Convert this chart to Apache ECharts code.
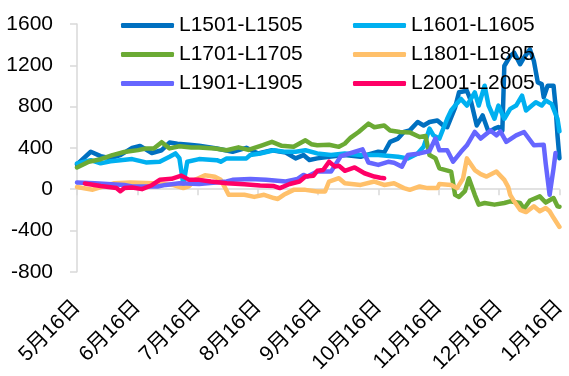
<!DOCTYPE html>
<html><head><meta charset="utf-8">
<script src="https://cdn.jsdelivr.net/npm/echarts@6/dist/echarts.min.js"></script>
<style>html,body{margin:0;padding:0;background:#fff}#c{width:569px;height:376px}</style>
</head><body><div id="c"></div>
<script>
// x values are days since 5月16日
const tickLabels = ['5月16日','6月16日','7月16日','8月16日','9月16日','10月16日','11月16日','12月16日','1月16日'];
const seriesNames = ['L1501-L1505','L1601-L1605','L1701-L1705','L1801-L1805','L1901-L1905','L2001-L2005'];
const seriesColors = ['#0070C0','#00B0F0','#6BAA34','#FFC06A','#6666FF','#FF0066'];

const l1501Days = [0,7,12,17,22,28,32,38,43,47,51,57,62,71,79,86,92,99,106,111,115,118,122,128,136,144,153,156,159,163,166,169,173,176,179,183,186,188,192,194,198,200,203,206,209,212,214,216,217,220,222,225,227,230,232,234,236,237,239,242,243,244,245];
const l1501Vals = [240,362,320,300,330,400,419,350,377,451,441,430,420,394,362,400,346,377,355,298,330,282,298,314,330,314,362,355,458,490,554,569,650,617,650,665,617,600,790,938,953,857,617,714,554,586,602,569,1193,1290,1322,1210,1274,1354,1242,1034,1018,890,1002,1002,809,521,300];

const l1601Days = [0,7,12,17,22,28,35,42,47,50,52,54,56,62,71,73,76,86,88,93,100,105,111,116,122,129,136,144,153,163,168,173,176,179,181,184,188,190,192,195,198,202,204,207,209,212,214,217,220,223,226,228,231,233,236,238,241,242,244,245];
const l1601Vals = [250,281,250,270,281,291,259,265,314,346,300,45,266,291,281,266,298,298,330,345,377,362,362,377,346,330,346,330,330,314,298,346,410,586,521,490,682,762,810,874,810,938,810,1002,810,682,810,682,778,810,906,762,810,842,810,858,826,778,682,560];

const l1701Days = [0,6,12,18,24,31,35,39,43,47,52,58,62,70,76,82,87,94,99,104,110,116,119,122,128,133,136,139,143,148,151,156,159,164,169,174,177,179,182,184,190,192,194,197,199,202,204,207,212,217,220,225,227,230,235,238,242,244,245];
const l1701Vals = [210,265,290,330,360,378,394,394,455,395,415,403,403,394,377,405,380,425,458,420,410,473,435,425,430,410,441,500,554,635,600,617,569,554,550,506,515,330,300,202,170,-55,-75,-19,106,-55,-150,-134,-150,-134,-118,-134,-190,-110,-70,-130,-86,-166,-170];

const l1801Days = [0,8,19,27,39,49,54,57,60,65,70,73,75,77,85,90,95,100,102,105,110,116,122,126,128,133,136,144,151,156,161,166,169,174,178,183,184,190,193,196,198,202,205,208,213,217,219,220,222,225,228,232,235,238,240,242,245];
const l1801Vals = [20,-5,58,65,58,40,10,30,90,135,120,90,20,-55,-55,-75,-55,-86,-95,-55,-7,-7,-22,-22,74,106,58,41,74,41,58,10,-7,26,10,10,50,41,10,100,298,185,146,122,170,90,20,-55,-118,-200,-222,-166,-214,-182,-214,-278,-366];

const l1901Days = [0,9,24,28,41,45,52,62,76,79,88,96,106,112,115,117,122,129,134,140,145,148,153,158,161,165,168,174,179,182,184,188,191,195,198,202,205,210,213,215,218,223,227,232,237,238,240,242,243];
const l1901Vals = [65,58,41,26,26,41,58,50,74,90,99,90,74,100,138,122,170,170,320,355,385,258,235,265,255,218,330,346,370,490,377,377,266,362,425,554,490,569,521,560,458,521,554,425,430,250,-55,200,350];

const l2001Days = [4,12,20,22,24,28,33,38,42,48,53,57,62,68,76,85,93,100,103,108,113,116,120,122,125,128,131,133,136,141,146,151,154,156];
const l2001Vals = [55,30,12,-20,10,16,0,38,90,100,131,90,90,74,58,48,35,30,10,50,74,122,130,178,186,266,218,226,178,210,154,122,110,106];

const allDays = [l1501Days,l1601Days,l1701Days,l1801Days,l1901Days,l2001Days];
const allVals = [l1501Vals,l1601Vals,l1701Vals,l1801Vals,l1901Vals,l2001Vals];

const FONT = "'Liberation Sans', 'Noto Sans CJK SC', sans-serif";
const xMax = 245, xStep = 245 / 8;

const chart = echarts.init(document.getElementById('c'), null, {renderer: 'canvas'});
chart.setOption({
  animation: false,
  backgroundColor: '#fff',
  grid: {left: 77, right: 6, top: 24, bottom: 102},
  legend: [
    {data: [seriesNames[0], seriesNames[2], seriesNames[4]], orient: 'vertical', left: 116, top: 10,
     itemWidth: 53, itemHeight: 5, icon: 'roundRect', itemGap: 8, selectedMode: false,
     textStyle: {fontSize: 21, color: '#000', fontFamily: FONT}},
    {data: [seriesNames[1], seriesNames[3], seriesNames[5]], orient: 'vertical', left: 348, top: 10,
     itemWidth: 53, itemHeight: 5, icon: 'roundRect', itemGap: 8, selectedMode: false,
     textStyle: {fontSize: 21, color: '#000', fontFamily: FONT}}
  ],
  xAxis: [
    {type: 'value', min: 0, max: xMax, interval: xStep, position: 'bottom',
     axisLine: {onZero: true, lineStyle: {color: '#D9D9D9', width: 1.5}},
     axisTick: {show: true, length: 6, lineStyle: {color: '#D9D9D9', width: 1.5}},
     axisLabel: {show: false}, splitLine: {show: false}},
    {type: 'value', min: 0, max: xMax, interval: xStep, position: 'bottom',
     axisLine: {show: false, onZero: false}, axisTick: {show: false}, splitLine: {show: false},
     axisLabel: {rotate: 45, margin: 32, fontSize: 21, color: '#000', fontFamily: FONT,
       formatter: v => tickLabels[Math.round(v / xStep)] || ''}}
  ],
  yAxis: {
    type: 'value', min: -800, max: 1600, interval: 400,
    axisLine: {show: true, onZero: false, lineStyle: {color: '#D9D9D9', width: 1.5}},
    axisTick: {show: true, length: 7, lineStyle: {color: '#D9D9D9', width: 1.5}},
    axisLabel: {fontSize: 21, color: '#000', margin: 24, fontFamily: FONT, formatter: v => String(v)},
    splitLine: {show: false}
  },
  series: seriesNames.map((name, k) => ({
    name, type: 'line', xAxisIndex: 0, showSymbol: false, symbol: 'none',
    color: seriesColors[k],
    lineStyle: {width: 4.5, color: seriesColors[k], cap: 'round', join: 'round'},
    emphasis: {disabled: true},
    data: allDays[k].map((d, i) => [d, allVals[k][i]])
  }))
});
</script></body></html>
